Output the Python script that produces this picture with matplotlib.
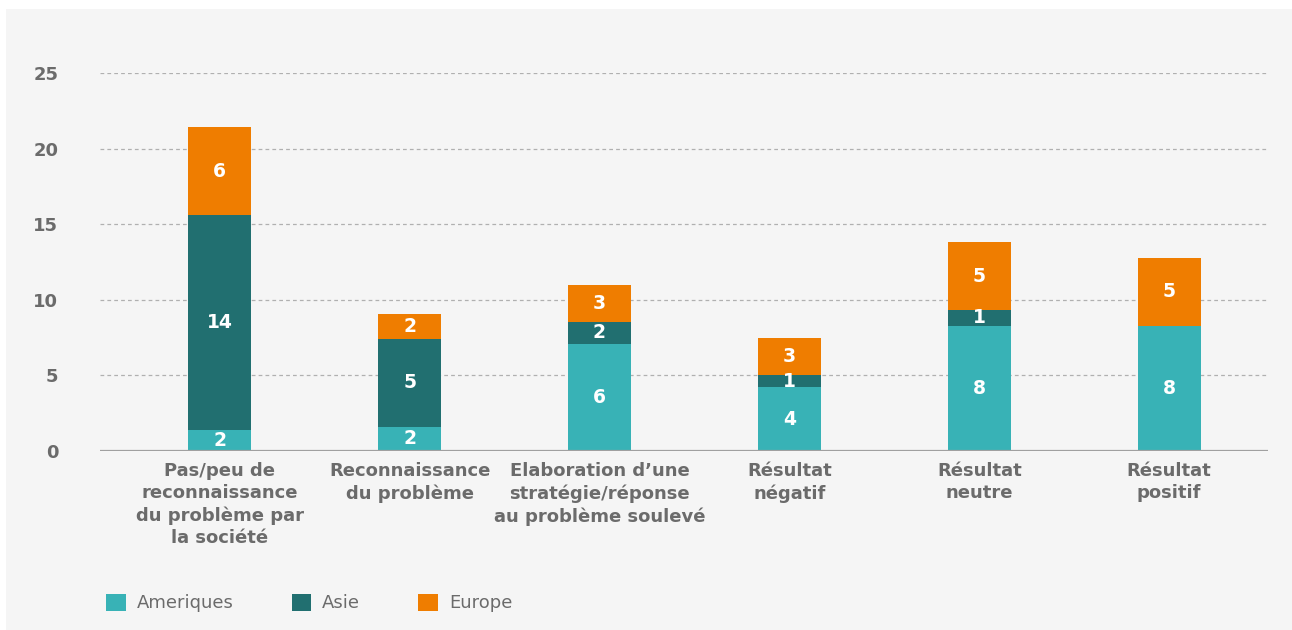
import matplotlib
matplotlib.use("Agg")
import matplotlib.pyplot as plt
from matplotlib.patches import Rectangle, Patch
import numpy as np

categories = [
    "Pas/peu de\nreconnaissance\ndu problème par\nla société",
    "Reconnaissance\ndu problème",
    "Elaboration d\u2019une\nstratégie/réponse\nau problème soulevé",
    "Résultat\nnégatif",
    "Résultat\nneutre",
    "Résultat\npositif",
]
series_names = ["Ameriques", "Asie", "Europe"]
ameriques = [1.4, 1.6, 7.1, 4.2, 8.3, 8.3]
asie = [14.2, 5.8, 1.45, 0.85, 1.0, 0.0]
europe = [5.8, 1.65, 2.45, 2.45, 4.5, 4.45]
ameriques_labels = ["2", "2", "6", "4", "8", "8"]
asie_labels = ["14", "5", "2", "1", "1", ""]
europe_labels = ["6", "2", "3", "3", "5", "5"]
yticks = [0, 5, 10, 15, 20, 25]

colors = ["#38b2b6", "#216f70", "#ef7d00"]
text_gray = "#6b6b6b"
bg = "#f5f5f5"

plt.rcParams['font.family'] = ['DejaVu Sans']

fig = plt.figure(figsize=(12.92, 6.30), dpi=100)
fig.patch.set_facecolor("white")
fig.add_artist(Rectangle((6 / 1292, 0), 1 - 6 / 1292, 1 - 9 / 630,
                         transform=fig.transFigure, facecolor=bg,
                         edgecolor="none", zorder=-10))

ax = fig.add_axes([100 / 1292, 1 - 451 / 630, 1168 / 1292, (451 - 73) / 630])
ax.set_facecolor("none")

x = np.arange(len(categories))
width = 0.33
bottom = np.zeros(len(categories))
for vals, labs, col in zip([ameriques, asie, europe],
                           [ameriques_labels, asie_labels, europe_labels], colors):
    vals = np.array(vals)
    ax.bar(x, vals, width, bottom=bottom, color=col, zorder=3)
    for xi, b, v, lab in zip(x, bottom, vals, labs):
        if lab:
            ax.text(xi, b + v / 2, lab, ha="center", va="center", color="white",
                    fontsize=13.5, fontweight="bold", zorder=4)
    bottom = bottom + vals

ax.set_ylim(0, 25)
ax.set_xlim(-0.63, 5.52)
ax.set_yticks(yticks)
ax.set_yticklabels([str(t) for t in yticks])
for t in yticks[1:]:
    ax.axhline(t, color="#b0b0b0", linestyle=(0, (3, 2.5)), linewidth=0.9, zorder=1)
ax.axhline(0, color="#a0a0a0", linewidth=1.6, zorder=5)

for s in ax.spines.values():
    s.set_visible(False)
ax.tick_params(axis="y", length=0, pad=30, labelsize=13, labelcolor=text_gray)
ax.tick_params(axis="x", length=0, pad=8, labelsize=13, labelcolor=text_gray)
for lab in ax.get_yticklabels():
    lab.set_fontweight("bold")
ax.set_xticks(x)
ax.set_xticklabels(categories, fontweight="bold", linespacing=1.3, va="top")

handles = [Patch(facecolor=c, edgecolor="none") for c in colors]
fig.legend(handles, series_names, loc="center left",
           bbox_to_anchor=(90 / 1292, 1 - 603 / 630), ncol=3, frameon=False,
           fontsize=13, labelcolor=text_gray, handlelength=1.1, handleheight=1.1,
           handletextpad=0.6, columnspacing=3.2)

fig.savefig("out.png", dpi=100, facecolor=fig.get_facecolor())
